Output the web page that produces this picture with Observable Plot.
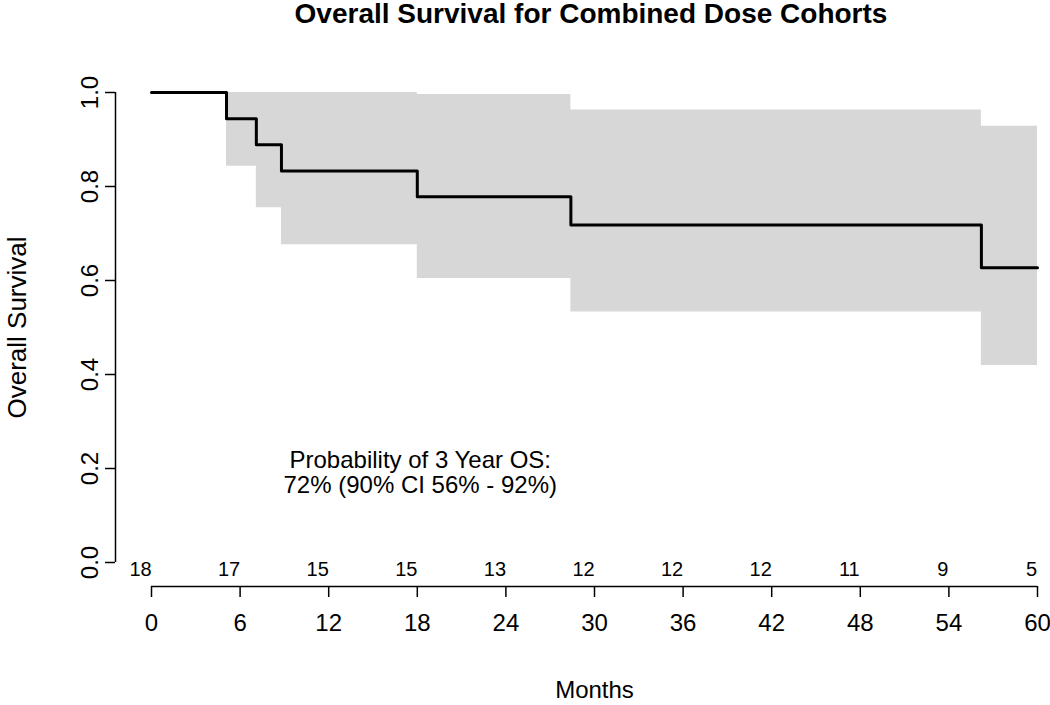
<!DOCTYPE html>
<html><head><meta charset="utf-8">
<script src="https://cdn.jsdelivr.net/npm/d3@7"></script>
<script src="https://cdn.jsdelivr.net/npm/@observablehq/plot@0.6"></script>
<style>
body{margin:0;background:#fff;font-family:"Liberation Sans",Arial,sans-serif;}
#title{width:1050px;height:40px;box-sizing:border-box;padding-left:132px;text-align:center;font-weight:bold;font-size:28px;line-height:28px;color:#000;white-space:nowrap;}
#chart svg{display:block;}
</style></head><body>
<div id="title">Overall Survival for Combined Dose Cohorts</div>
<div id="chart"></div>
<script>
// Kaplan-Meier estimate (months, survival)
const kmTimes = [0, 5.08, 7.1, 8.8, 18.0, 28.4, 56.2, 60];
const kmSurvival = [1, 0.944, 0.889, 0.833, 0.778, 0.718, 0.627, 0.627];
// Confidence band
const ciTimes = [5.08, 7.1, 8.8, 18.0, 28.4, 56.2, 60];
const ciUpper = [1, 1, 1, 0.996, 0.963, 0.928, 0.928];
const ciLower = [0.843, 0.755, 0.676, 0.604, 0.533, 0.419, 0.419];
// Axes
const xTicks = [0, 6, 12, 18, 24, 30, 36, 42, 48, 54, 60];
const yTicks = [0, 0.2, 0.4, 0.6, 0.8, 1.0];
// Number at risk at each x tick
const atRisk = [18, 17, 15, 15, 13, 12, 12, 12, 11, 9, 5];
// Annotation
const annotationLines = ["Probability of 3 Year OS:", "72% (90% CI 56% - 92%)"];
const annotationAt = [18.2, 0.192];
const titleText = "Overall Survival for Combined Dose Cohorts";
const xLabel = "Months";
const yLabel = "Overall Survival";

const kmIdx = d3.range(kmTimes.length);
const ciIdx = d3.range(ciTimes.length);
const riskIdx = d3.range(atRisk.length);
const riskTwoDigit = riskIdx.filter(i => atRisk[i] >= 10);
const riskOneDigit = riskIdx.filter(i => atRisk[i] < 10);

const chart = Plot.plot({
  width: 1050,
  height: 665,
  marginTop: 52,
  marginBottom: 143,
  marginLeft: 151,
  marginRight: 13,
  style: {fontFamily: '"Liberation Sans", Arial, sans-serif', fontSize: "24px", background: "white", color: "black"},
  x: {domain: [xTicks[0], xTicks[xTicks.length - 1]]},
  y: {domain: [0, 1]},
  marks: [
    Plot.areaY(ciIdx, {x: i => ciTimes[i], y1: i => ciLower[i], y2: i => ciUpper[i], curve: "step-after", fill: "#d7d7d7"}),
    Plot.line(kmIdx, {x: i => kmTimes[i], y: i => kmSurvival[i], curve: "step-after", stroke: "black", strokeWidth: 3}),
    Plot.ruleX([xTicks[0]], {y1: yTicks[0], y2: yTicks[yTicks.length - 1], dx: -36, stroke: "black", strokeWidth: 1.5}),
    Plot.axisY({ticks: yTicks, tickFormat: d3.format(".1f"), tickSize: 10, tickRotate: -90, tickPadding: 8, dx: -36, fontSize: 24, label: null, strokeWidth: 1.5}),
    Plot.ruleY([0], {x1: xTicks[0], x2: xTicks[xTicks.length - 1], dy: 24, stroke: "black", strokeWidth: 1.5}),
    Plot.axisX({ticks: xTicks, tickSize: 11, tickPadding: 16, dy: 24, fontSize: 24, label: null, strokeWidth: 1.5}),
    Plot.text(riskTwoDigit, {x: i => xTicks[i], y: () => 0, text: i => String(atRisk[i]), dy: 7, dx: -11, fontSize: 20}),
    Plot.text(riskOneDigit, {x: i => xTicks[i], y: () => 0, text: i => String(atRisk[i]), dy: 7, dx: -6, fontSize: 20}),
    Plot.text([yLabel], {frameAnchor: "left", textAnchor: "middle", rotate: -90, dx: -134, fontSize: 26}),
    Plot.text([xLabel], {frameAnchor: "bottom", dy: 135, fontSize: 24}),
    Plot.text([annotationLines.join("\n")], {x: () => annotationAt[0], y: () => annotationAt[1], fontSize: 24, lineHeight: 1.04})
  ]
});
document.getElementById("title").textContent = titleText;
document.getElementById("chart").appendChild(chart);
</script>
</body></html>
